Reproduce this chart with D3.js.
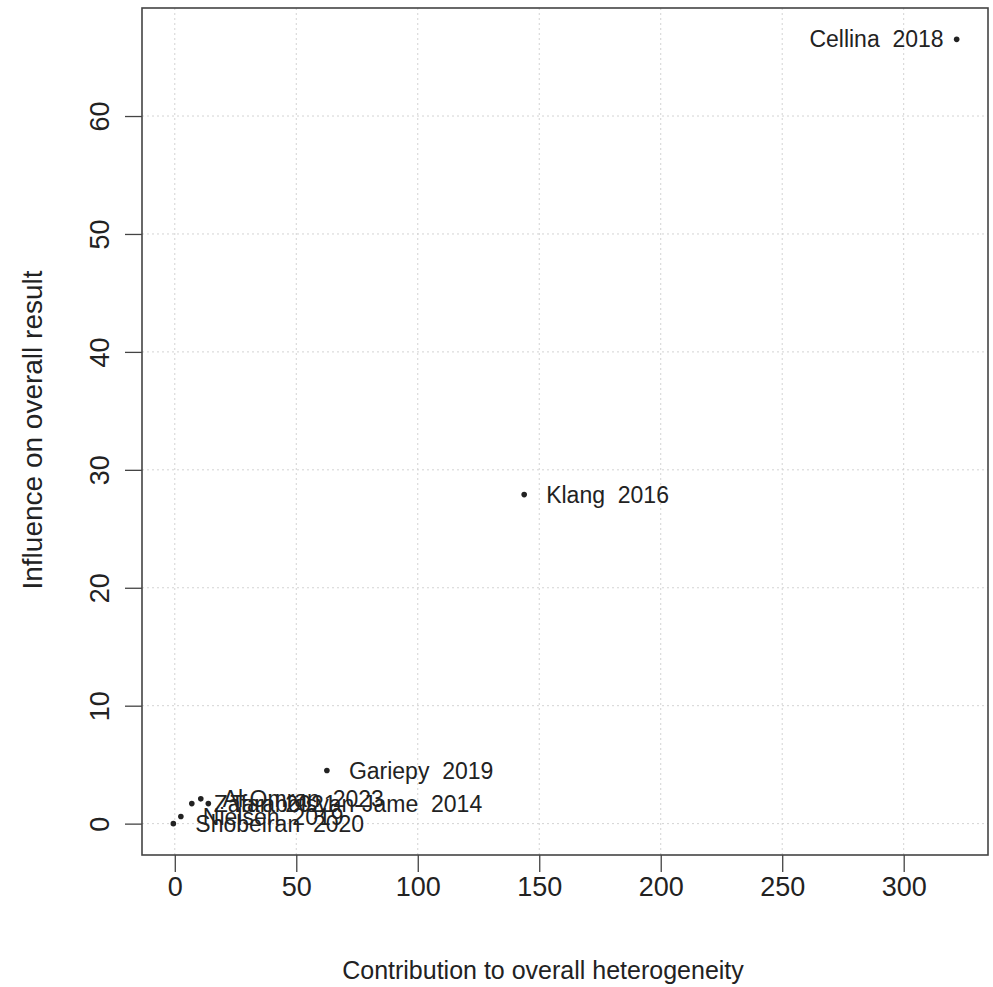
<!DOCTYPE html>
<html>
<head>
<meta charset="utf-8">
<script src="https://cdn.jsdelivr.net/npm/d3@7.9.0/dist/d3.min.js"></script>
<style>
  body { margin: 0; background: #fff; }
  svg { font-family: "Liberation Sans", Arial, sans-serif; }
</style>
</head>
<body>
<svg id="chart" width="993" height="987"></svg>
<script>
// Baujat-style plot: study labels and values
const studies = ['Cellina  2018', 'Klang  2016', 'Gariepy  2019', 'Tarabolsyan-Jame  2014',
                 'Al Omran  2023', 'Zafari  2021', 'Nielsen  2019', 'Shobeiran  2020'];
const heterogeneity = [321.8, 143.8, 62.6, 13.8, 10.7, 7.0, 2.5, -0.6];
const influence = [66.5, 27.9, 4.5, 1.7, 2.1, 1.7, 0.6, 0.0];
const xTicks = [0, 50, 100, 150, 200, 250, 300];
const yTicks = [0, 10, 20, 30, 40, 50, 60];

const points = studies.map((s, i) => ({ study: s, x: heterogeneity[i], y: influence[i] }));

const svg = d3.select('#chart');
const box = { left: 142, right: 988, top: 8, bottom: 855 };

// R pads the data range by 4% on each side
const xExt = d3.extent(heterogeneity);
const yExt = d3.extent(influence);
const xPad = (xExt[1] - xExt[0]) * 0.04;
const yPad = (yExt[1] - yExt[0]) * 0.04;

const x = d3.scaleLinear()
    .domain([xExt[0] - xPad, xExt[1] + xPad])
    .range([box.left, box.right]);

const y = d3.scaleLinear()
    .domain([yExt[0] - yPad, yExt[1] + yPad])
    .range([box.bottom, box.top]);

// dotted grid
const grid = svg.append('g').attr('stroke', '#d3d3d3').attr('stroke-dasharray', '2,3');
grid.selectAll('line.v').data(xTicks).join('line')
    .attr('x1', d => x(d)).attr('x2', d => x(d))
    .attr('y1', box.top).attr('y2', box.bottom);
grid.selectAll('line.h').data(yTicks).join('line')
    .attr('x1', box.left).attr('x2', box.right)
    .attr('y1', d => y(d)).attr('y2', d => y(d));

// axes
const xAxis = svg.append('g')
    .attr('transform', `translate(0, ${box.bottom})`)
    .call(d3.axisBottom(x).tickValues(xTicks).tickSize(17).tickPadding(12));
const yAxis = svg.append('g')
    .attr('transform', `translate(${box.left}, 0)`)
    .call(d3.axisLeft(y).tickValues(yTicks).tickSize(17).tickPadding(10));

[xAxis, yAxis].forEach(a => {
    a.select('.domain').remove();
    a.selectAll('line').attr('stroke', '#444').attr('stroke-width', 1.3);
    a.selectAll('text').attr('fill', '#222').style('font-size', '27px')
        .style('font-family', '"Liberation Sans", Arial, sans-serif');
});
xAxis.selectAll('.tick text').attr('dy', '0').attr('y', 41);
yAxis.selectAll('.tick text')
    .attr('transform', 'rotate(-90)')
    .attr('x', 0).attr('y', -33)
    .attr('text-anchor', 'middle')
    .attr('dy', '0');

// plot box
svg.append('rect')
    .attr('x', box.left).attr('y', box.top)
    .attr('width', box.right - box.left).attr('height', box.bottom - box.top)
    .attr('fill', 'none').attr('stroke', '#444').attr('stroke-width', 1.6);

// points
svg.append('g').selectAll('circle').data(points).join('circle')
    .attr('cx', d => x(d.x)).attr('cy', d => y(d.y))
    .attr('r', 2.8).attr('fill', '#222');

// labels: right of point, except the top one which goes left
svg.append('g').selectAll('text').data(points).join('text')
    .attr('x', (d, i) => i === 0 ? x(d.x) - 13 : x(d.x) + 22)
    .attr('y', d => y(d.y))
    .attr('dy', '0.35em')
    .attr('text-anchor', (d, i) => i === 0 ? 'end' : 'start')
    .attr('fill', '#222')
    .style('font-size', '23px')
    .style('white-space', 'pre')
    .text(d => d.study);

// axis titles
svg.append('text')
    .attr('x', 543).attr('y', 979)
    .attr('text-anchor', 'middle').attr('fill', '#222')
    .style('font-size', '25px')
    .text('Contribution to overall heterogeneity');

svg.append('text')
    .attr('transform', `translate(42, 430) rotate(-90)`)
    .attr('text-anchor', 'middle').attr('fill', '#222')
    .style('font-size', '28px')
    .text('Influence on overall result');
</script>
</body>
</html>
